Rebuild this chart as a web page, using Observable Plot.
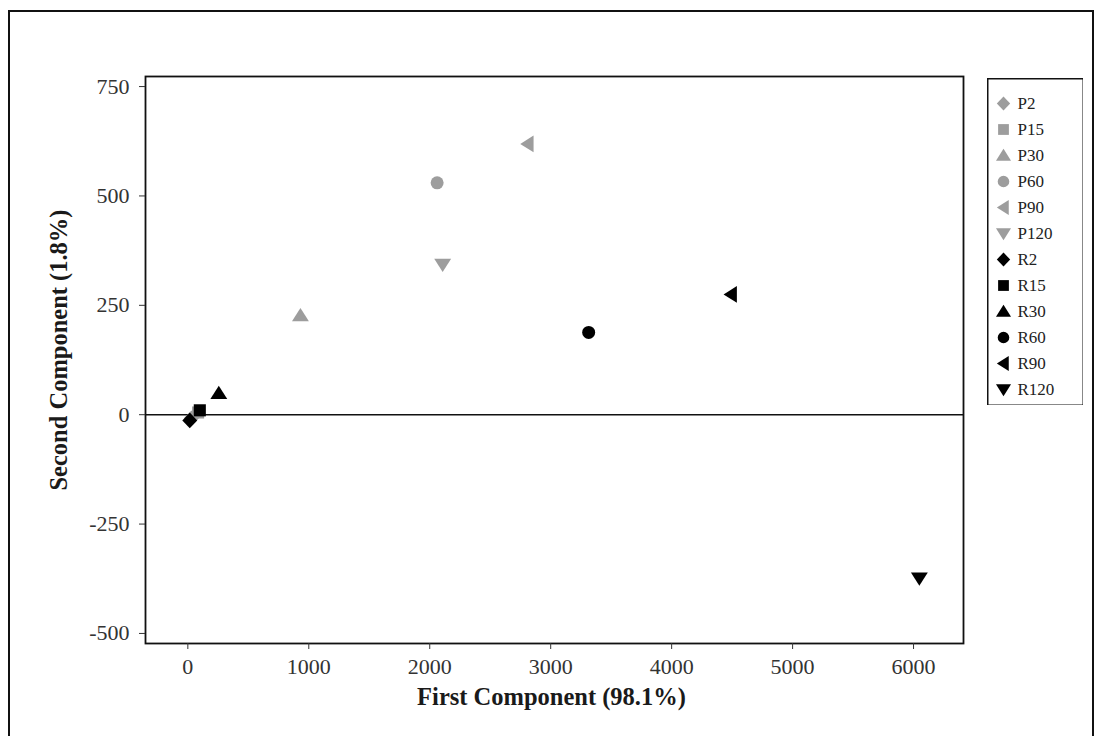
<!DOCTYPE html>
<html>
<head>
<meta charset="utf-8">
<script src="https://cdn.jsdelivr.net/npm/d3@7"></script>
<script src="https://cdn.jsdelivr.net/npm/@observablehq/plot@0.6"></script>
<style>
  html, body { margin: 0; padding: 0; background: #fff; overflow: hidden; }
  body { width: 1095px; height: 736px; position: relative; font-family: "Liberation Serif", serif; }
  #border { position: absolute; left: 8px; top: 10px; width: 1086px; height: 760px; border: 2px solid #111; box-sizing: border-box; }
  #chart { position: absolute; left: 0; top: 0; }
  #legend { position: absolute; left: 987px; top: 78px; }
</style>
</head>
<body>
<div id="border"></div>
<div id="chart"></div>
<div id="legend"></div>
<script>
// ---- data ----
const names = ["P2", "P15", "P30", "P60", "P90", "P120", "R2", "R15", "R30", "R60", "R90", "R120"];
const firstComponent = [30, 85, 931, 2061, 2810, 2107, 16, 99, 256, 3314, 4491, 6048];
const secondComponent = [-8, 5, 227, 530, 619, 343, -13, 10, 49, 188, 275, -374];
const shapes = ["diamond", "square", "up", "circle", "left", "down", "diamond", "square", "up", "circle", "left", "down"];
const groups = ["P", "P", "P", "P", "P", "P", "R", "R", "R", "R", "R", "R"];
const xTicks = [0, 1000, 2000, 3000, 4000, 5000, 6000];
const yTicks = [-500, -250, 0, 250, 500, 750];

// ---- custom symbols ----
const rOf = size => Math.sqrt(size / Math.PI);
const symbolObjects = {
  diamond: {draw(c, s) { const r = rOf(s); c.moveTo(0, -r * 1.2); c.lineTo(r * 1.15, 0); c.lineTo(0, r * 1.2); c.lineTo(-r * 1.15, 0); c.closePath(); }},
  square: {draw(c, s) { const r = rOf(s) * 0.93; c.moveTo(-r, -r); c.lineTo(r, -r); c.lineTo(r, r); c.lineTo(-r, r); c.closePath(); }},
  up: {draw(c, s) { const r = rOf(s); c.moveTo(0, -r * 1.15); c.lineTo(r * 1.3, r * 0.9); c.lineTo(-r * 1.3, r * 0.9); c.closePath(); }},
  circle: {draw(c, s) { const r = rOf(s); c.moveTo(r, 0); c.arc(0, 0, r, 0, 2 * Math.PI); c.closePath(); }},
  left: {draw(c, s) { const r = rOf(s); c.moveTo(-r * 1.15, 0); c.lineTo(r * 0.9, -r * 1.3); c.lineTo(r * 0.9, r * 1.3); c.closePath(); }},
  down: {draw(c, s) { const r = rOf(s); c.moveTo(0, r * 1.15); c.lineTo(r * 1.3, -r * 0.9); c.lineTo(-r * 1.3, -r * 0.9); c.closePath(); }}
};
const shapeDomain = ["diamond", "square", "up", "circle", "left", "down"];
const symbolScale = {domain: shapeDomain, range: shapeDomain.map(k => symbolObjects[k])};
const colorScale = {domain: ["P", "R"], range: ["#9d9d9d", "#000000"]};

const data = names.map((n, i) => ({name: n, x: firstComponent[i], y: secondComponent[i], shape: shapes[i], group: groups[i]}));

const fmt = d => `${d}`;

const chart = Plot.plot({
  width: 1095,
  height: 736,
  marginLeft: 145,
  marginRight: 132,
  marginTop: 76,
  marginBottom: 93,
  style: {fontFamily: "Liberation Serif, serif", fontSize: "22px", background: "transparent", overflow: "visible"},
  x: {domain: [-350, 6413]},
  y: {domain: [-523, 773]},
  symbol: symbolScale,
  color: colorScale,
  marks: [
    Plot.ruleY([0], {stroke: "#111", strokeWidth: 1.5}),
    Plot.frame({stroke: "#111", strokeWidth: 1.8}),
    Plot.axisX({ticks: xTicks, tickFormat: fmt, tickSize: 6, tickPadding: 9, color: "#333", label: null}),
    Plot.axisY({ticks: yTicks, tickFormat: fmt, tickSize: 6, tickPadding: 10, color: "#333", label: null}),
    Plot.dot(data, {x: "x", y: "y", symbol: "shape", fill: "group", r: 6.5}),
    Plot.text(["First Component (98.1%)"], {frameAnchor: "bottom", dy: 61, dx: -3, text: d => d, textAnchor: "middle", fontWeight: "bold", fontSize: 24.5, fill: "#1a1a1a"}),
    Plot.text(["Second Component (1.8%)"], {frameAnchor: "left", dx: -86, dy: -10, rotate: -90, text: d => d, textAnchor: "middle", fontWeight: "bold", fontSize: 24.5, fill: "#1a1a1a"})
  ]
});
document.getElementById("chart").appendChild(chart);

const legend = Plot.plot({
  width: 96,
  height: 327,
  margin: 0,
  style: {fontFamily: "Liberation Serif, serif", fontSize: "17px", background: "white"},
  x: {domain: [0, 96], range: [0, 96], axis: null},
  y: {type: "point", domain: names, range: [23, 312], padding: 0, axis: null},
  symbol: symbolScale,
  color: colorScale,
  marks: [
    Plot.frame({stroke: "#111", strokeWidth: 2}),
    Plot.dot(data, {x: () => 16, y: "name", symbol: "shape", fill: "group", r: 5.8}),
    Plot.text(data, {x: () => 30, y: "name", text: "name", textAnchor: "start", fill: "#222", fontSize: 17})
  ]
});
document.getElementById("legend").appendChild(legend);
</script>
</body>
</html>
